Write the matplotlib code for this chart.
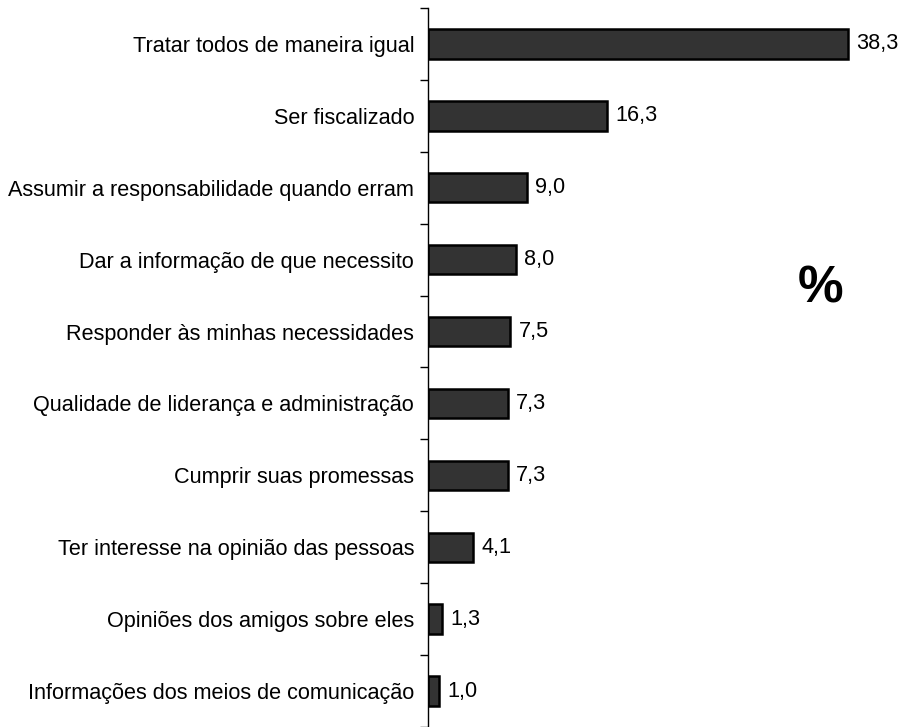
import matplotlib
matplotlib.use("Agg")
import matplotlib.pyplot as plt

categories = [
    "Tratar todos de maneira igual",
    "Ser fiscalizado",
    "Assumir a responsabilidade quando erram",
    "Dar a informação de que necessito",
    "Responder às minhas necessidades",
    "Qualidade de liderança e administração",
    "Cumprir suas promessas",
    "Ter interesse na opinião das pessoas",
    "Opiniões dos amigos sobre eles",
    "Informações dos meios de comunicação",
]
values = [38.3, 16.3, 9.0, 8.0, 7.5, 7.3, 7.3, 4.1, 1.3, 1.0]

plt.rcParams['font.family'] = ['Liberation Sans', 'DejaVu Sans']

fig = plt.figure(figsize=(9, 7.27), dpi=100)
ax = fig.add_axes([0.4756, 0.0, 0.512, 0.989])

n = len(categories)
ypos = list(range(n))
ax.barh(ypos, values, height=0.41, color="#333333", edgecolor="black", linewidth=1.8)
ax.set_ylim(n - 0.5, -0.5)
ax.set_xlim(0, 42)

for y, v in zip(ypos, values):
    ax.text(v + 0.75, y, f"{v:.1f}".replace(".", ","), va="center", ha="left", fontsize=15.6)

ax.set_yticks(ypos)
ax.set_yticklabels(categories, fontsize=15.6)
ax.tick_params(axis="y", which="major", length=0, pad=10)
ax.set_yticks([i - 0.5 for i in range(n + 1)], minor=True)
ax.tick_params(axis="y", which="minor", length=6, width=1, direction="out")
ax.set_xticks([])
for s in ["top", "right", "bottom"]:
    ax.spines[s].set_visible(False)
ax.spines["left"].set_linewidth(1)

fig.text(0.912, 0.603, "%", fontsize=37, fontweight="bold", ha="center", va="center")

fig.savefig("out.png", dpi=100)
